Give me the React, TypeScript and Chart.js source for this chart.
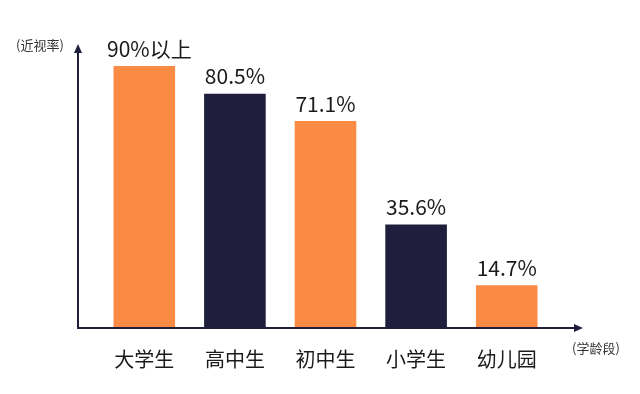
import React, { useEffect, useRef } from "react";
import { Chart, registerables } from "chart.js";

Chart.register(...registerables);

const categories = ["大学生", "高中生", "初中生", "小学生", "幼儿园"];
const values = [90, 80.5, 71.1, 35.6, 14.7];
const valueLabels = ["90%以上", "80.5%", "71.1%", "35.6%", "14.7%"];
const barColors = ["#F98B44", "#1F1F3D", "#F98B44", "#1F1F3D", "#F98B44"];
const yTitle = "(近视率)";
const xTitle = "(学龄段)";

const FONT = "'Noto Sans CJK SC', 'Noto Sans', sans-serif";
const AXIS_COLOR = "#1F1F3D";

const overlay = {
  id: "overlay",
  afterDatasetsDraw(chart: any) {
    const { ctx, chartArea } = chart;
    const meta = chart.getDatasetMeta(0);
    ctx.save();
    // axes
    const ax = chartArea.left - 21;
    const ay = chartArea.bottom;
    const yTop = 44;
    const xRight = chartArea.right + 31;
    ctx.strokeStyle = AXIS_COLOR;
    ctx.fillStyle = AXIS_COLOR;
    ctx.lineWidth = 2;
    ctx.beginPath();
    ctx.moveTo(ax, yTop + 6);
    ctx.lineTo(ax, ay);
    ctx.lineTo(xRight - 6, ay);
    ctx.stroke();
    ctx.beginPath();
    ctx.moveTo(ax, yTop);
    ctx.lineTo(ax - 4, yTop + 9);
    ctx.lineTo(ax + 4, yTop + 9);
    ctx.closePath();
    ctx.fill();
    ctx.beginPath();
    ctx.moveTo(xRight, ay);
    ctx.lineTo(xRight - 9, ay - 4);
    ctx.lineTo(xRight - 9, ay + 4);
    ctx.closePath();
    ctx.fill();
    // value labels
    ctx.fillStyle = "#1a1a1a";
    ctx.font = `21px ${FONT}`;
    ctx.textAlign = "center";
    ctx.textBaseline = "bottom";
    meta.data.forEach((bar: any, i: number) => {
      ctx.fillText(valueLabels[i], bar.x + (i === 0 ? 5 : 0), bar.y - 7);
    });
    // axis titles
    ctx.fillStyle = "#333";
    ctx.font = `13px ${FONT}`;
    ctx.textBaseline = "middle";
    ctx.fillText(yTitle, 40, 45);
    ctx.fillText(xTitle, 596, 348);
    ctx.restore();
  },
};

export default function App() {
  const ref = useRef<HTMLCanvasElement>(null);
  useEffect(() => {
    document.body.style.margin = "0";
    const chart = new Chart(ref.current!, {
      type: "bar",
      data: {
        labels: categories,
        datasets: [
          {
            data: values,
            backgroundColor: barColors,
            barPercentage: 0.68,
            categoryPercentage: 1,
          },
        ],
      },
      options: {
        responsive: false,
        animation: false,
        layout: { padding: { left: 99, right: 88, top: 37, bottom: 12 } },
        plugins: { legend: { display: false }, tooltip: { enabled: false } },
        scales: {
          y: { display: false, min: 0, max: 100 },
          x: {
            grid: { display: false },
            border: { display: false },
            ticks: {
              color: "#1a1a1a",
              font: { size: 20, family: FONT },
              padding: 11,
            },
          },
        },
      },
      plugins: [overlay],
    });
    return () => chart.destroy();
  }, []);
  return (
    <div style={{ width: 640, height: 394 }}>
      <canvas ref={ref} width={640} height={394} />
    </div>
  );
}
